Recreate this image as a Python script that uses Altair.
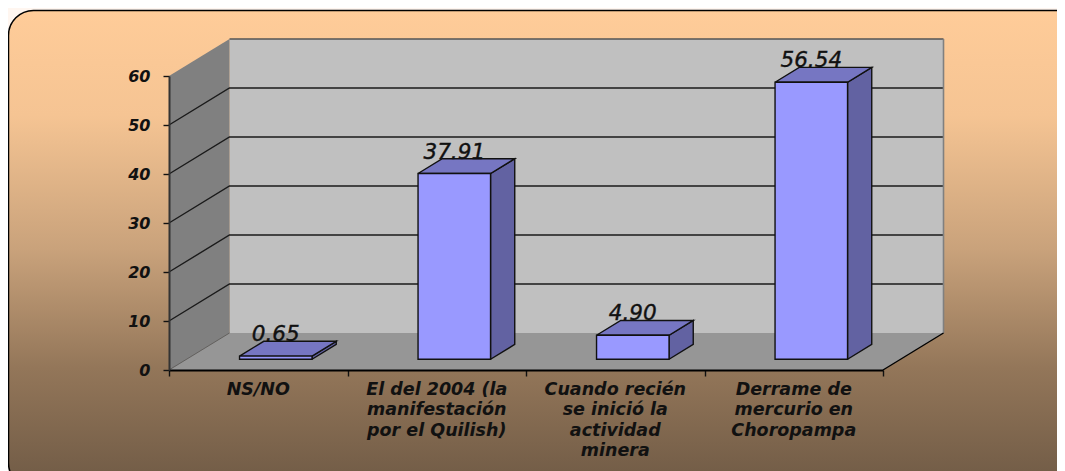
import altair as alt
import pandas as pd

# ---- chart values ----
categories = [
    "NS/NO",
    "El del 2004 (la\nmanifestación\npor el Quilish)",
    "Cuando recién\nse inició la\nactividad\nminera",
    "Derrame de\nmercurio en\nChoropampa",
]
values = [0.65, 37.91, 4.90, 56.54]
value_labels = ["0.65", "37.91", "4.90", "56.54"]
y_ticks = [0, 10, 20, 30, 40, 50, 60]
x_ticks = [0, 1, 2, 3, 4]

# ---- geometry: scale sizes and the oblique depth of the fake 3-D box ----
PLOT_W, PLOT_H = 714, 294
PAD_L, PAD_T = 161, 68
PAD_R, PAD_B = 174, 101
Y_MAX, X_MAX = 60, 4
PX_X = PLOT_W / X_MAX
PX_Y = PLOT_H / Y_MAX
DX = 60.5 / PX_X     # depth, in x units
DY = 37.0 / PX_Y     # depth, in y units
D0, D1 = 0.29, 0.69  # bar's front and back in depth fractions
HALF = 36.25 / PX_X  # half a bar's width


def px_x(p):
    return (p - PAD_L) / PX_X


def px_y(p):
    return (PAD_T + PLOT_H - p) / PX_Y


FONT = "DejaVu Sans"
xs = alt.Scale(domain=[0, X_MAX], nice=False, zero=False)
ys = alt.Scale(domain=[0, Y_MAX], nice=False, zero=False)
ax_x = alt.Axis(
    values=x_ticks, labels=False, tickSize=6, domainColor="#000000", domainWidth=2,
    tickWidth=1.4, tickColor="#111111", grid=False, title=None, zindex=1,
)
ax_y = alt.Axis(
    values=y_ticks, tickSize=6, labelPadding=13, domainColor="#333333", domainWidth=2,
    labelFont=FONT, labelFontStyle="italic", labelFontWeight="bold", labelFontSize=16,
    labelColor="#111111", tickColor="#111111", tickWidth=1.4, grid=False, title=None, zindex=1,
)
X = alt.X("x:Q", scale=xs, axis=ax_x)
Y = alt.Y("y:Q", scale=ys, axis=ax_y)
Y2 = alt.Y2("y2:Q")
X2 = alt.X2("x2:Q")

C_WALL, C_SIDE, C_FLOOR = "#C0C0C0", "#808080", "#969696"
C_FRONT, C_BSIDE, C_BTOP = "#9999FF", "#6262A2", "#7676C2"
INK = "#111111"

# ---- panel ----
panel = pd.DataFrame([dict(x=px_x(0.5), x2=px_x(1075), y=px_y(2.5), y2=px_y(480))])
gradient = alt.LinearGradient(
    gradient="linear", x1=0, x2=0, y1=0, y2=1,
    stops=[
        alt.GradientStop(offset=0.0, color="#FFCC99"),
        alt.GradientStop(offset=0.22, color="#F5C493"),
        alt.GradientStop(offset=0.5, color="#C9A27B"),
        alt.GradientStop(offset=0.75, color="#937659"),
        alt.GradientStop(offset=1.0, color="#6F5A45"),
    ],
)
panel_layer = alt.Chart(panel).mark_rect(
    fill=gradient, stroke="#000000", strokeWidth=1.5, cornerRadius=25
).encode(x=X, x2=X2, y=Y, y2=Y2)


# ---- filled polygons, drawn as closed lines through the scales ----
def polygons(shapes, fill, stroke_width, stroke=INK):
    rows = []
    for name, pts in shapes:
        for k, (x, y) in enumerate(list(pts) + [pts[0]]):
            rows.append(dict(id=name, k=k, x=x, y=y))
    return alt.Chart(pd.DataFrame(rows)).mark_line(
        fill=fill, stroke=stroke, strokeWidth=stroke_width, interpolate="linear", strokeJoin="miter"
    ).encode(x=X, y=Y, detail="id:N", order="k:Q")


left_wall = polygons([("left", [(0, 0), (0, Y_MAX), (DX, Y_MAX + DY), (DX, DY)])], C_SIDE, 0, C_SIDE)
back_wall = polygons(
    [("back", [(DX, DY), (DX, Y_MAX + DY), (X_MAX + DX, Y_MAX + DY), (X_MAX + DX, DY)])], C_WALL, 0, C_WALL
)
floor = polygons([("floor", [(0, 0), (DX, DY), (X_MAX + DX, DY), (X_MAX, 0)])], C_FLOOR, 0, C_FLOOR)

# ---- grid and box edges ----
lines = []


def path(name, color, width, pts):
    for k, (x, y) in enumerate(pts):
        lines.append(dict(id=name, c=color, w=width, k=k, x=x, y=y))


for v in y_ticks[1:-1]:
    path(f"g{v}", "#1A1A1A", 1.4, [(0, v), (DX, v + DY), (X_MAX + DX, v + DY)])
path("top", "#555555", 1.6, [(DX, Y_MAX + DY), (X_MAX + DX, Y_MAX + DY)])
path("right", "#808080", 1.6, [(X_MAX + DX, Y_MAX + DY), (X_MAX + DX, DY)])
path("floorR", "#000000", 1.4, [(X_MAX, 0), (X_MAX + DX, DY)])
path("floorL", "#555555", 0.8, [(0, 0), (DX, DY)])
line_layer = alt.Chart(pd.DataFrame(lines)).mark_line(interpolate="linear").encode(
    x=X, y=Y,
    color=alt.Color("c:N", scale=None),
    strokeWidth=alt.StrokeWidth("w:Q", scale=None),
    detail="id:N",
    order="k:Q",
)

# ---- bars ----
front, sides, tops = [], [], []
for i, v in enumerate(values):
    c = i + 0.5 + D0 * DX
    xl, xr = c - HALF, c + HALF
    base = D0 * DY
    top = v + base
    ddx, ddy = (D1 - D0) * DX, (D1 - D0) * DY
    front.append(dict(x=xl, x2=xr, y=top, y2=base, cx=c, label=value_labels[i]))
    sides.append((f"s{i}", [(xr, base), (xr, top), (xr + ddx, top + ddy), (xr + ddx, base + ddy)]))
    tops.append((f"t{i}", [(xl, top), (xl + ddx, top + ddy), (xr + ddx, top + ddy), (xr, top)]))
front_df = pd.DataFrame(front)
side_layer = polygons(sides, C_BSIDE, 1.4)
top_layer = polygons(tops, C_BTOP, 1.4)
front_layer = alt.Chart(front_df).mark_rect(
    fill=C_FRONT, stroke=INK, strokeWidth=1.4
).encode(x=X, x2=X2, y=Y, y2=Y2)

# ---- value labels ----
value_text = alt.Chart(front_df).mark_text(
    font=FONT, fontStyle="italic", fontSize=21.5, color="#111111", stroke="#111111", strokeWidth=0.4,
    align="center", baseline="middle", dy=-21,
).encode(x=alt.X("cx:Q", scale=xs, axis=ax_x), y=Y, text="label:N")

# ---- category labels ----
cat_df = pd.DataFrame({"x": [i + 0.5 for i in range(len(categories))], "y": [0] * len(categories), "t": categories})
cat_text = alt.Chart(cat_df).mark_text(
    font=FONT, fontStyle="italic", fontWeight="bold", fontSize=17.5, color="#111111",
    align="center", baseline="top", lineBreak="\n", lineHeight=20.4, dy=11,
).encode(x=X, y=Y, text="t:N")

chart = alt.layer(
    panel_layer, back_wall, left_wall, floor, line_layer,
    side_layer, top_layer, front_layer, value_text, cat_text,
).properties(
    width=PLOT_W, height=PLOT_H,
    background="#FFF6F0",
    autosize=alt.AutoSizeParams(type="none"),
    padding={"left": PAD_L, "top": PAD_T, "right": PAD_R, "bottom": PAD_B},
).configure_view(stroke=None)

chart.save("out.html", embed_options={"renderer": "svg", "actions": False})
